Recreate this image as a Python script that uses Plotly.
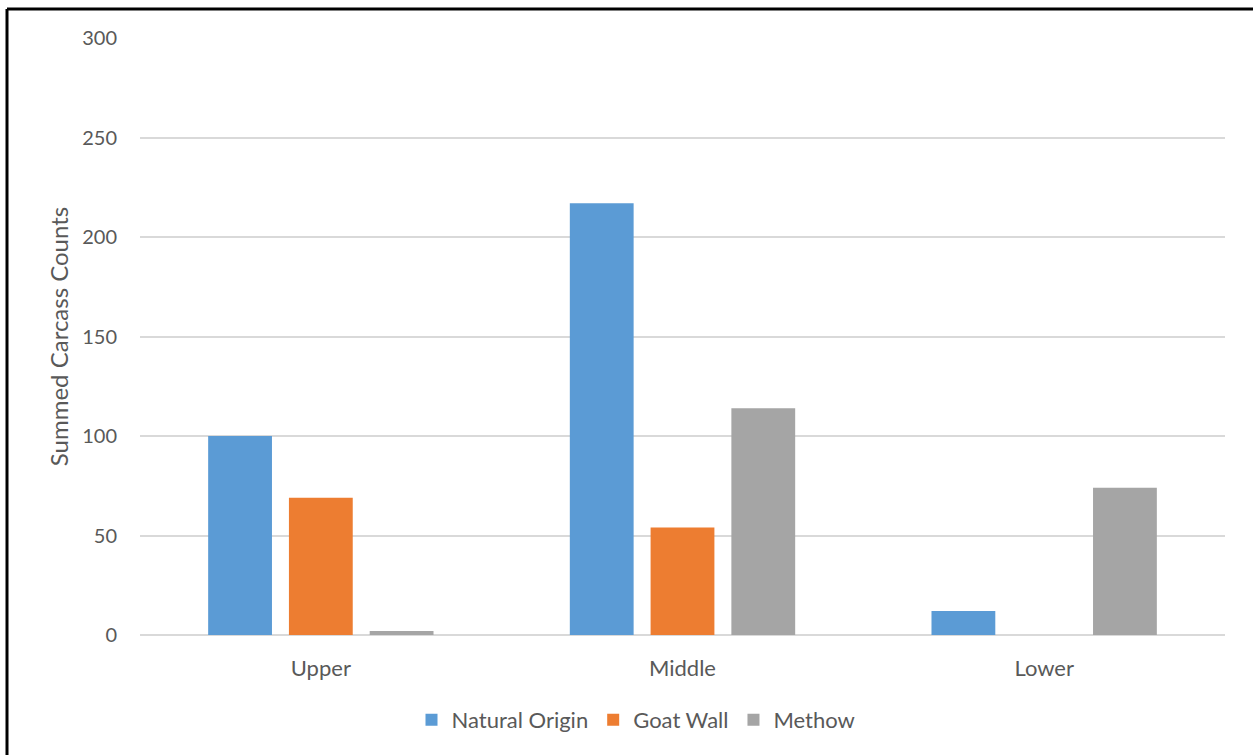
import plotly.graph_objects as go

categories = ["Upper", "Middle", "Lower"]
natural_origin = [100, 217, 12]
goat_wall = [69, 54, 0]
methow = [2, 114, 74]
series_names = ["Natural Origin", "Goat Wall", "Methow"]
colors = ["#5B9BD5", "#ED7D31", "#A5A5A5"]
y_ticks = [0, 50, 100, 150, 200, 250, 300]

W, H = 1253, 755
ml, mr, mt, mb = 140, 28, 38, 120
pw, ph = W - ml - mr, H - mt - mb

fig = go.Figure()
for name, vals, col in zip(series_names, [natural_origin, goat_wall, methow], colors):
    fig.add_trace(go.Bar(x=categories, y=vals, name=name, marker=dict(color=col, line=dict(width=0))))

font = "Lato, Open Sans, sans-serif"
txt = "#595959"

def px_x(p):
    return (p - ml) / pw

def px_y(p):
    return (H - mb - p) / ph

fig.update_layout(
    width=W, height=H,
    margin=dict(l=ml, r=mr, t=mt, b=mb),
    paper_bgcolor="white", plot_bgcolor="white",
    barmode="group", bargap=0.33, bargroupgap=0.21,
    font=dict(family=font, color=txt, size=21),
    showlegend=True,
    legend=dict(orientation="h", x=px_x(636), xanchor="center", y=px_y(720), yanchor="middle",
                font=dict(size=22, color=txt), itemwidth=30, traceorder="normal"),
    xaxis=dict(showgrid=False, showline=False, zeroline=False, ticks="",
               tickfont=dict(size=22, color=txt), ticklabelstandoff=18),
    yaxis=dict(range=[0, 300], tickvals=y_ticks, showgrid=True, gridcolor="#D9D9D9", gridwidth=1.5,
               zeroline=True, zerolinecolor="#D9D9D9", zerolinewidth=1.5, showline=False, ticks="",
               tickfont=dict(size=20, color=txt), ticklabelstandoff=22,
               title=dict(text="Summed Carcass Counts", font=dict(size=24, color=txt), standoff=6)),
    shapes=[
        dict(type="line", xref="paper", yref="paper", x0=px_x(7), x1=px_x(W + 5), y0=px_y(9), y1=px_y(9),
             line=dict(color="black", width=3)),
        dict(type="line", xref="paper", yref="paper", x0=px_x(7), x1=px_x(7), y0=px_y(9), y1=px_y(H + 5),
             line=dict(color="black", width=3)),
    ],
)

fig.write_html("out.html")
